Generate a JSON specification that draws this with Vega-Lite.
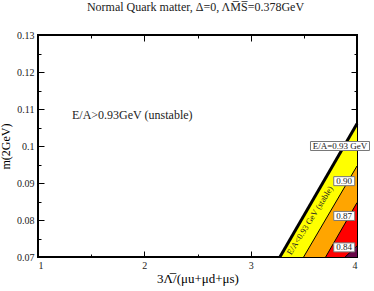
{
  "$schema": "https://vega.github.io/schema/vega-lite/v6.json",
  "width": 319,
  "height": 222,
  "autosize": "none",
  "padding": {"left": 38, "top": 35, "right": 17, "bottom": 34},
  "background": "white",
  "config": {
    "font": "Liberation Serif",
    "view": {"stroke": "black", "strokeWidth": 2},
    "axis": {
      "domain": false,
      "grid": false,
      "labelFont": "Liberation Serif",
      "labelFontSize": 10,
      "labelColor": "#222222",
      "tickColor": "black",
      "tickWidth": 1,
      "titleFont": "Liberation Serif",
      "titleFontWeight": "normal",
      "titleColor": "black",
      "titleFontSize": 12
    }
  },
  "title": {
    "text": "Normal Quark matter, Δ=0, ΛM̅S̅=0.378GeV",
    "font": "Liberation Serif",
    "fontSize": 12,
    "fontWeight": "normal",
    "color": "#222222",
    "anchor": "middle",
    "offset": 16,
    "dx": -2
  },
  "datasets": {
    "regions": [
      {"band": "yellow", "x": 3.275, "y": 0.07},
      {"band": "yellow", "x": 4.0, "y": 0.106},
      {"band": "orange", "x": 3.498, "y": 0.07},
      {"band": "orange", "x": 4.0, "y": 0.0946},
      {"band": "red", "x": 3.705, "y": 0.07},
      {"band": "red", "x": 4.0, "y": 0.0847},
      {"band": "purple", "x": 3.888, "y": 0.07},
      {"band": "purple", "x": 4.0, "y": 0.073}
    ],
    "boxes": [
      {"x": 3.84, "y": 0.1, "label": "E/A=0.93 GeV", "kind": "wide"},
      {"x": 3.88, "y": 0.0905, "label": "0.90", "kind": "narrow"},
      {"x": 3.88, "y": 0.0811, "label": "0.87", "kind": "narrow"},
      {"x": 3.88, "y": 0.0726, "label": "0.84", "kind": "narrow"}
    ],
    "notes": [
      {"x": 1.32, "y": 0.1084, "label": "E/A>0.93GeV (unstable)", "kind": "plain"},
      {"x": 3.555, "y": 0.0799, "label": "E/A<0.93 GeV (stable)", "kind": "rotated"}
    ]
  },
  "layer": [
    {
      "data": {"name": "regions"},
      "transform": [{"filter": "datum.band == 'yellow'"}],
      "mark": {"type": "area", "color": "#ffff00", "stroke": null},
      "encoding": {
        "x": {
          "field": "x", "type": "quantitative",
          "scale": {"domain": [1, 4], "nice": false, "zero": false},
          "axis": {
            "orient": "bottom",
            "values": [1, 1.5, 2, 2.5, 3, 3.5, 4],
            "labelExpr": "datum.value % 1 == 0 ? '' + datum.value : ''",
            "tickSize": {"condition": {"test": "datum.value % 1 == 0", "value": -6}, "value": -3},
            "labelPadding": 9,
            "title": "3Λ̅/(μu+μd+μs)",
            "titleFontSize": 13,
            "titlePadding": 2
          }
        },
        "y": {
          "field": "y", "type": "quantitative",
          "scale": {"domain": [0.07, 0.13], "nice": false, "zero": false},
          "axis": {
            "orient": "left",
            "values": [0.07, 0.075, 0.08, 0.085, 0.09, 0.095, 0.1, 0.105, 0.11, 0.115, 0.12, 0.125, 0.13],
            "labelExpr": "round(datum.value * 1000) % 10 == 0 ? '' + datum.value : ''",
            "tickSize": {"condition": {"test": "round(datum.value * 1000) % 10 == 0", "value": -6}, "value": -3},
            "labelPadding": 10,
            "title": "m(2GeV)",
            "titleFontSize": 12,
            "titlePadding": 4
          }
        },
        "y2": {"datum": 0.07}
      }
    },
    {
      "data": {"name": "regions"},
      "transform": [{"filter": "datum.band == 'orange'"}],
      "mark": {"type": "area", "color": "#ffa500"},
      "encoding": {
        "x": {"field": "x", "type": "quantitative", "axis": {
            "orient": "top",
            "values": [1, 1.5, 2, 2.5, 3, 3.5, 4],
            "labels": false,
            "tickSize": {"condition": {"test": "datum.value % 1 == 0", "value": -6}, "value": -3},
            "title": null
          }},
        "y": {"field": "y", "type": "quantitative", "axis": {
            "orient": "right",
            "values": [0.07, 0.075, 0.08, 0.085, 0.09, 0.095, 0.1, 0.105, 0.11, 0.115, 0.12, 0.125, 0.13],
            "labels": false,
            "tickSize": {"condition": {"test": "round(datum.value * 1000) % 10 == 0", "value": -6}, "value": -3},
            "title": null
          }},
        "y2": {"datum": 0.07}
      }
    },
    {
      "data": {"name": "regions"},
      "transform": [{"filter": "datum.band == 'red'"}],
      "mark": {"type": "area", "color": "#ff0000"},
      "encoding": {
        "x": {"field": "x", "type": "quantitative", "axis": null},
        "y": {"field": "y", "type": "quantitative", "axis": null},
        "y2": {"datum": 0.07}
      }
    },
    {
      "data": {"name": "regions"},
      "transform": [{"filter": "datum.band == 'purple'"}],
      "mark": {"type": "area", "color": "#670748"},
      "encoding": {
        "x": {"field": "x", "type": "quantitative", "axis": null},
        "y": {"field": "y", "type": "quantitative", "axis": null},
        "y2": {"datum": 0.07}
      }
    },
    {
      "data": {"name": "regions"},
      "transform": [{"filter": "datum.band != 'yellow'"}],
      "mark": {"type": "line", "color": "black", "strokeWidth": 1},
      "encoding": {
        "x": {"field": "x", "type": "quantitative", "axis": null},
        "y": {"field": "y", "type": "quantitative", "axis": null},
        "detail": {"field": "band"}
      }
    },
    {
      "data": {"name": "regions"},
      "transform": [{"filter": "datum.band == 'yellow'"}],
      "mark": {"type": "line", "color": "black", "strokeWidth": 3},
      "encoding": {
        "x": {"field": "x", "type": "quantitative", "axis": null},
        "y": {"field": "y", "type": "quantitative", "axis": null}
      }
    },
    {
      "data": {"name": "boxes"},
      "transform": [{"filter": "datum.kind == 'wide'"}],
      "mark": {"type": "point", "shape": "M-1,-0.1525L1,-0.1525L1,0.1525L-1,0.1525Z", "size": 3481, "filled": true, "fill": "white", "stroke": "#777777", "strokeWidth": 1, "opacity": 1},
      "encoding": {
        "x": {"field": "x", "type": "quantitative", "axis": null},
        "y": {"field": "y", "type": "quantitative", "axis": null}
      }
    },
    {
      "data": {"name": "boxes"},
      "transform": [{"filter": "datum.kind == 'narrow'"}],
      "mark": {"type": "point", "shape": "M-1,-0.43L1,-0.43L1,0.43L-1,0.43Z", "size": 441, "filled": true, "fill": "white", "stroke": "#777777", "strokeWidth": 1, "opacity": 1},
      "encoding": {
        "x": {"field": "x", "type": "quantitative", "axis": null},
        "y": {"field": "y", "type": "quantitative", "axis": null}
      }
    },
    {
      "data": {"name": "boxes"},
      "mark": {"type": "text", "font": "Liberation Serif", "fontSize": 9, "color": "#222222", "align": "center", "baseline": "middle"},
      "encoding": {
        "x": {"field": "x", "type": "quantitative", "axis": null},
        "y": {"field": "y", "type": "quantitative", "axis": null},
        "text": {"field": "label"}
      }
    },
    {
      "data": {"name": "notes"},
      "transform": [{"filter": "datum.kind == 'plain'"}],
      "mark": {"type": "text", "font": "Liberation Serif", "fontSize": 12, "color": "#222222", "align": "left", "baseline": "middle"},
      "encoding": {
        "x": {"field": "x", "type": "quantitative", "axis": null},
        "y": {"field": "y", "type": "quantitative", "axis": null},
        "text": {"field": "label"}
      }
    },
    {
      "data": {"name": "notes"},
      "transform": [{"filter": "datum.kind == 'rotated'"}],
      "mark": {"type": "text", "font": "Liberation Serif", "fontSize": 8.5, "color": "#222222", "align": "center", "baseline": "middle", "angle": 302},
      "encoding": {
        "x": {"field": "x", "type": "quantitative", "axis": null},
        "y": {"field": "y", "type": "quantitative", "axis": null},
        "text": {"field": "label"}
      }
    }
  ],
  "resolve": {"axis": {"x": "independent", "y": "independent"}}
}
